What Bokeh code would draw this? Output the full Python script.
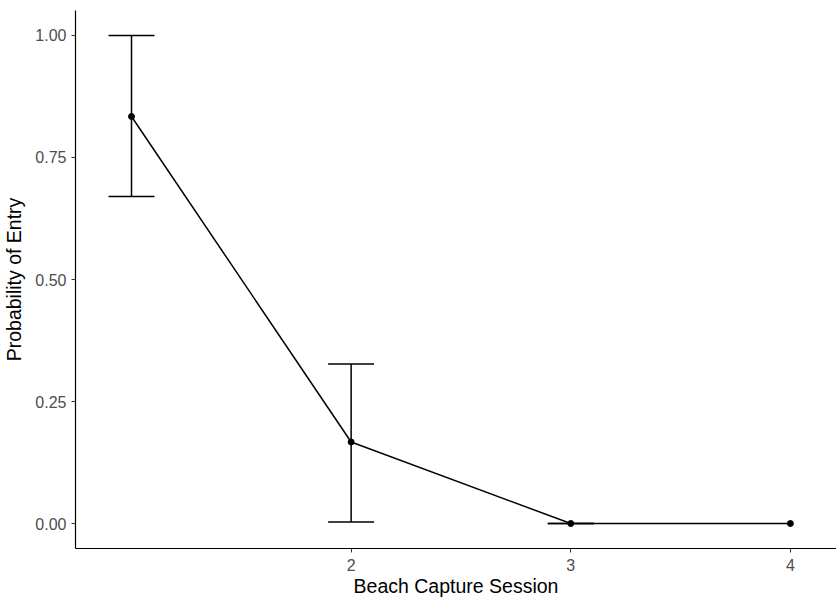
from bokeh.plotting import figure
from bokeh.models import Range1d, FixedTicker, NumeralTickFormatter, Whisker, TeeHead, ColumnDataSource
from bokeh.embed import file_html
from bokeh.resources import INLINE

# Data
session = [1, 2, 3, 4]
prob = [0.834, 0.167, 0.0, 0.0]
err_session = [1, 2, 3]
err_lower = [0.670, 0.003, 0.0]
err_upper = [1.0, 0.327, 0.0]
x_ticks = [2, 3, 4]
y_ticks = [0.0, 0.25, 0.50, 0.75, 1.0]

p = figure(width=836, height=599, output_backend="svg", toolbar_location=None,
           x_range=Range1d(0.745, 4.21), y_range=Range1d(-0.0512, 1.0512),
           min_border_left=74, min_border_right=0, min_border_top=10, min_border_bottom=51)

p.outline_line_color = None
p.xgrid.visible = False
p.ygrid.visible = False
p.background_fill_color = "white"
p.border_fill_color = "white"

# error bars
src = ColumnDataSource(dict(x=err_session, lower=err_lower, upper=err_upper))
w = Whisker(source=src, base="x", lower="lower", upper="upper", dimension="height",
            line_color="black", line_width=1.5,
            upper_head=TeeHead(size=46, line_color="black", line_width=1.5),
            lower_head=TeeHead(size=46, line_color="black", line_width=1.5))
p.add_layout(w)

p.line(session, prob, line_color="black", line_width=1.5)
p.scatter(session, prob, size=6, fill_color="black", line_color="black")

for ax in (p.xaxis[0], p.yaxis[0]):
    ax.axis_line_color = "black"
    ax.axis_line_width = 1.2
    ax.major_tick_line_color = "#333333"
    ax.major_tick_out = 4
    ax.major_tick_in = 0
    ax.minor_tick_line_color = None
    ax.major_label_text_color = "#4d4d4d"
    ax.major_label_text_font = "Liberation Sans"
    ax.major_label_text_font_size = "16px"
    ax.axis_label_text_font = "Liberation Sans"
    ax.axis_label_text_font_style = "normal"
    ax.axis_label_text_font_size = "19.5px"
    ax.axis_label_text_color = "black"

p.xaxis.ticker = FixedTicker(ticks=x_ticks)
p.yaxis.ticker = FixedTicker(ticks=y_ticks)
p.yaxis.formatter = NumeralTickFormatter(format="0.00")
p.xaxis.axis_label = "Beach Capture Session"
p.yaxis.axis_label = "Probability of Entry"
p.xaxis.major_label_standoff = 6
p.xaxis.axis_label_standoff = 1
p.yaxis.major_label_standoff = 5
p.yaxis.axis_label_standoff = 7

open("out.html", "w").write(file_html(p, INLINE))
